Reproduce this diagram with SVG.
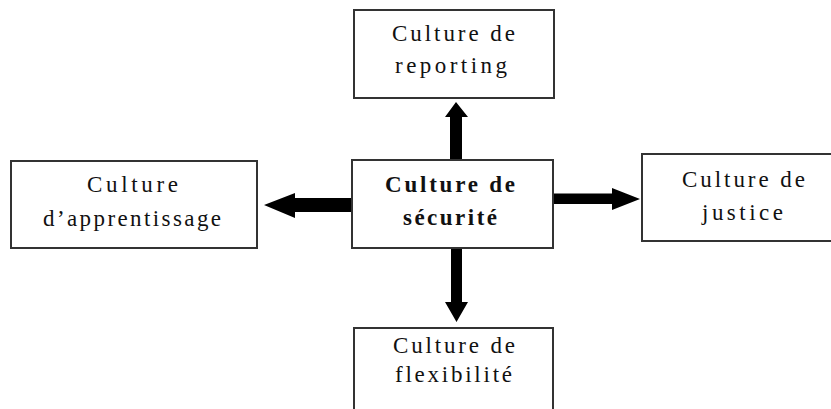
<svg xmlns="http://www.w3.org/2000/svg" width="831" height="409" viewBox="0 0 831 409">
<style>
.box{fill:#fff;stroke:#333;stroke-width:2}
.t{font-family:"Liberation Serif","Times New Roman",serif;font-size:23px;fill:#111}
.b{font-weight:bold}
.arrow{fill:#000}
</style>
<rect x="0" y="0" width="831" height="409" fill="#fff"/>
<g id="connectors">
<polygon class="arrow" points="456,102 468,117 462,117 462,159 450,159 450,117 445,117"/>
<polygon class="arrow" points="451,249 462,249 462,302 468,302 456.5,322 445,302 451,302"/>
<polygon class="arrow" points="264,205 295,193 295,198 351,198 351,212 295,212 295,218"/>
<polygon class="arrow" points="554,193.5 612,193.5 612,188 640,199 612,210 612,204 554,204"/>
</g>
<g id="node-reporting">
<rect class="box" x="354" y="10" width="200" height="88"/>
<text class="t" x="392" y="41" textLength="123">Culture de</text>
<text class="t" x="395" y="73" textLength="112">reporting</text>
</g>
<g id="node-apprentissage">
<rect class="box" x="11" y="161" width="246" height="87"/>
<text class="t" x="87" y="192" textLength="91">Culture</text>
<text class="t" x="43" y="226" textLength="178">d’apprentissage</text>
</g>
<g id="node-securite">
<rect class="box" x="352" y="160" width="201" height="88"/>
<text class="t b" x="385" y="192" textLength="130">Culture de</text>
<text class="t b" x="403" y="225" textLength="94">sécurité</text>
</g>
<g id="node-justice">
<rect class="box" x="642" y="154" width="205" height="87"/>
<text class="t" x="682" y="187" textLength="123">Culture de</text>
<text class="t" x="702" y="220" textLength="81">justice</text>
</g>
<g id="node-flexibilite">
<rect class="box" x="354" y="328" width="199" height="90"/>
<text class="t" x="393" y="353" textLength="122">Culture de</text>
<text class="t" x="395" y="382" textLength="117">flexibilité</text>
</g>
</svg>
